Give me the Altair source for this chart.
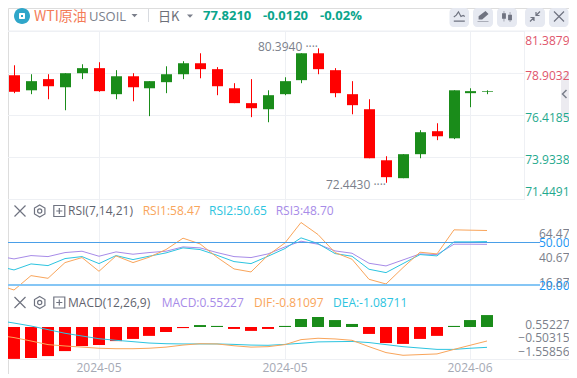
import altair as alt
import pandas as pd

# ---------- data ----------
idx = list(range(0, 29))
high = [79.39,78.86,78.86,78.92,79.45,79.57,79.10,78.92,78.45,79.33,79.63,80.10,79.28,78.33,78.57,77.91,78.68,80.10,80.39,79.22,78.45,77.38,74.01,74.13,75.55,75.96,77.91,78.03,77.91]
low = [77.74,77.68,77.38,76.73,78.57,77.82,77.38,77.26,76.38,77.74,78.57,78.62,77.62,77.15,76.32,76.02,77.62,78.33,78.86,77.50,76.49,73.89,72.44,72.71,73.89,74.96,75.02,76.91,77.68]
body_top = [78.80,78.45,78.57,78.92,79.22,79.22,78.74,78.74,78.45,78.86,79.51,79.51,79.16,78.03,77.15,77.62,78.45,80.10,80.10,79.10,77.68,76.79,73.77,74.13,75.43,75.49,77.91,77.86,77.86]
body_bot = [77.82,77.91,78.15,78.09,78.92,77.86,77.68,78.09,78.03,78.39,78.86,79.16,78.15,77.15,76.85,76.79,77.68,78.51,79.16,77.74,77.03,73.89,72.77,72.71,74.13,75.19,75.07,77.74,77.82]
updown = list("rgrggrgrgggrrrrgggrrrrrggrggg")

idx2 = list(range(-1, 29))
rsi1 = [20.25,16.47,26.62,24.73,35.82,39.36,29.68,40.54,35.82,39.59,45.02,53.04,49.03,39.59,31.34,29.21,41.01,49.74,64.13,55.63,42.89,38.18,24.02,20.72,32.28,43.13,41.95,58.94,58.70,58.47]
rsi2 = [33.46,30.63,34.87,33.69,38.65,40.06,35.11,40.77,37.94,40.30,42.66,46.20,45.02,41.01,36.53,35.11,40.30,45.73,53.27,49.26,42.19,40.30,31.10,28.74,35.11,41.48,40.54,50.44,50.44,50.65]
rsi3 = [40.54,38.41,40.77,40.06,42.89,43.84,40.30,43.37,41.72,42.89,43.84,46.90,46.20,42.89,40.06,39.36,41.95,46.90,50.92,48.79,44.07,42.42,35.35,33.46,37.70,41.95,41.48,48.79,48.79,48.70]
dif = [-0.55,-0.66,-0.81,-0.97,-1.03,-1.08,-1.13,-1.15,-1.15,-1.13,-1.08,-0.99,-0.93,-0.94,-1.02,-1.08,-1.06,-0.97,-0.75,-0.69,-0.72,-0.78,-1.06,-1.32,-1.44,-1.41,-1.38,-1.18,-1.00,-0.81]
dea = [0.10,-0.02,-0.15,-0.31,-0.47,-0.59,-0.71,-0.78,-0.84,-0.90,-0.93,-0.94,-0.94,-0.94,-0.96,-0.99,-1.00,-0.96,-0.91,-0.85,-0.84,-0.83,-0.88,-0.97,-1.06,-1.12,-1.18,-1.18,-1.13,-1.09]
hist = [-1.29,-1.47,-1.43,-1.34,-1.11,-0.88,-0.83,-0.65,-0.55,-0.41,-0.23,-0.05,0.09,0.05,-0.09,-0.18,-0.09,0.05,0.37,0.46,0.32,0.14,-0.32,-0.74,-0.78,-0.55,-0.41,0.05,0.32,0.55]

price_ticks = [81.3879, 78.9032, 76.4185, 73.9338, 71.4491]
rsi_ticks = [64.47, 40.67, 16.87]
rsi_levels = [50, 20]
macd_ticks = [0.55227, -0.50315, -1.55856]
date_pos = [5, 16, 27]
date_labels = ["2024-05", "2024-05", "2024-06"]

FONT = "Open Sans"
GRID = "#eef0f4"
RED = "#ff0000"
GREEN = "#1a8c1a"
GRAY = "#7b7f8b"
ICON = "#6f7380"
ORANGE = "#f9a55b"
CYAN = "#2cc4e0"
PURPLE = "#a78be8"
BLUE = "#2196f3"
W = 561
H = 366
PLOT_R = 516   # right edge of the candle plot


def hx(px):
    return px - 8


xscale = alt.Scale(domain=[0, 28], range=[hx(14.3), hx(487.3)], round=True, nice=False, zero=False, padding=0)
xnone = alt.X("i:Q", scale=xscale, axis=None)
pscale = alt.Scale(domain=[price_ticks[-1], price_ticks[0]], range=[hx(199.5), hx(31.5)], nice=False, zero=False)
rscale = alt.Scale(domain=[20, 50], range=[hx(285), hx(242.5)], nice=False, zero=False)
rt_scale = alt.Scale(domain=[rsi_ticks[-1], rsi_ticks[0]], range=[hx(282), hx(233.3)], nice=False, zero=False)
hscale = alt.Scale(domain=[0, 1], range=[hx(327), hx(305.3)], nice=False, zero=False)
lscale = alt.Scale(domain=[-1, 0], range=[hx(345.3), hx(322.6)], nice=False, zero=False)
mt_scale = alt.Scale(domain=[macd_ticks[-1], macd_ticks[0]], range=[hx(351), hx(324.3)], nice=False, zero=False)


def txt(s, x, y, color=GRAY, size=12, weight="normal", align="left", font=FONT):
    return alt.Chart(pd.DataFrame({"t": [s]})).mark_text(color=color, fontSize=size, fontWeight=weight, align=align,
                                                         baseline="middle", font=font).encode(
        x=alt.value(x), y=alt.value(y), text="t:N")


def icon(path, x, y, r, color=ICON, filled=False, sw=1.2):
    return alt.Chart(pd.DataFrame({"a": [0]})).mark_point(shape=path, size=(2 * r) ** 2, filled=filled, opacity=1,
                                                          color=color, strokeWidth=sw).encode(
        x=alt.value(x), y=alt.value(y))


def box(x, x2, y, y2, color, radius=0):
    return alt.Chart(pd.DataFrame({"a": [0]})).mark_rect(color=color, cornerRadius=radius).encode(
        x=alt.value(x), x2=alt.value(x2), y=alt.value(y), y2=alt.value(y2))


def axis(values, color, fmt):
    return alt.Axis(values=values, orient="right", ticks=False, tickSize=0, domain=False, grid=False, title=None, labelFont=FONT,
                    labelFontSize=12, labelColor=color, labelAlign="right", labelPadding=0, format=fmt, zindex=1)


layers = []

# ---------- header ----------
btns = [(449.5, 469), (473, 493), (497, 517), (525, 545), (549, 568.5)]
layers += [
    box(0, W, 22.5, 23.5, GRID),
    icon("M-1,0A1,1 0 1,0 1,0A1,1 0 1,0 -1,0Z", hx(22), 8, 8, "#2fa6c9", True, 0),
    box(hx(19), hx(25), 5, 11, "white", 1),
    box(hx(21), hx(23), 7, 9, "#2fa6c9"),
    txt("WTI原油", hx(34), 8.5, "#f47c58", 14, font="Noto Sans CJK SC"),
    txt("USOIL", hx(89), 8.5, GRAY, 13),
    icon("M-1,-0.5L1,-0.5L0,0.6Z", hx(134.5), 7.5, 3, GRAY, True, 0),
    box(hx(148), hx(148.8), 1, 14, "#cfd2d9"),
    txt("日K", hx(158), 8.5, "#6d7079", 13, font="Noto Sans CJK SC"),
    icon("M-1,-0.5L1,-0.5L0,0.6Z", hx(190), 8, 3, GRAY, True, 0),
    txt("77.8210", hx(203), 8, "#0ba58c", 13, "bold"),
    txt("-0.0120", hx(263), 8, "#0ba58c", 13, "bold"),
    txt("-0.02%", hx(320), 8, "#0ba58c", 13, "bold"),
]
for a, b in btns:
    layers.append(box(hx(a), hx(b), 0, 19, "#e6e9f1", 4))
layers += [
    icon("M-1,0.1L-0.55,-0.25L-0.15,-0.85L0.3,0L0.7,-0.2L1,0M-1,0.85L1,0.85", hx(459.3), 8.5, 5.5),
    icon("M0.45,-1L1,-0.45L-0.15,0.55L-0.8,0.55L-0.8,-0.05ZM-1,0.9L1,0.9L1,1L-1,1Z", hx(483), 8.5, 5.5, ICON, True, 0.5),
    icon("M-0.9,-0.6L-0.2,-0.6L-0.2,0.4L-0.9,0.4ZM-0.6,-1L-0.5,-1L-0.5,0.9L-0.6,0.9ZM0.2,-0.3L0.9,-0.3L0.9,0.7L0.2,0.7ZM0.5,-0.8L0.6,-0.8L0.6,1L0.5,1Z", hx(507), 8.5, 5.5, ICON, True, 0.5),
    icon("M1,-1L0.2,-0.2M0.2,-0.9L0.2,-0.2L0.9,-0.2M-1,1L-0.2,0.2M-0.2,0.9L-0.2,0.2L-0.9,0.2", hx(535), 8.5, 5),
    icon("M-1,-1L1,1M-1,1L1,-1", hx(559), 8.5, 5),
]

# ---------- grids ----------
layers.append(alt.Chart(pd.DataFrame({"i": date_pos})).mark_rule(color=GRID, strokeWidth=1, xOffset=0.5).encode(
    x=xnone, y=alt.value(hx(31)), y2=alt.value(hx(359))))
layers.append(alt.Chart(pd.DataFrame({"v": price_ticks})).mark_rule(color=GRID, strokeWidth=1).encode(
    x=alt.value(0), x2=alt.value(PLOT_R), y=alt.Y("v:Q", scale=pscale, axis=None)))
layers.append(box(PLOT_R, PLOT_R + 1, hx(31), hx(200), GRID))
layers.append(box(0, W, hx(359), hx(360), GRID))

# ---------- candles ----------
cd = pd.DataFrame({"i": idx, "high": high, "low": low, "top": body_top, "bot": body_bot, "dir": updown})
color_c = alt.Color("dir:N", scale=alt.Scale(domain=["r", "g"], range=[RED, GREEN]), legend=None)
layers.append(alt.Chart(cd).mark_rule(strokeWidth=1, xOffset=0.5).encode(
    x=xnone, y=alt.Y("low:Q", scale=pscale, axis=None), y2="high:Q", color=color_c))
layers.append(alt.Chart(cd).mark_bar(size=11, orient="vertical", xOffset=0.5).encode(
    x=xnone, y=alt.Y("bot:Q", scale=pscale, axis=None), y2="top:Q", color=color_c))
for i, p, t, dy in [(18, high[18], "80.3940 ····", -1), (22, low[22], "72.4430 ····", 2)]:
    layers.append(alt.Chart(pd.DataFrame({"i": [i], "p": [p], "t": [t]})).mark_text(
        align="right", baseline="middle", color=GRAY, fontSize=12, font=FONT, dy=dy).encode(
        x=xnone, y=alt.Y("p:Q", scale=pscale, axis=None), text="t:N"))
price_axis = alt.Axis(values=price_ticks, orient="right", ticks=False, tickSize=0, domain=False, grid=False, title=None, labelFont=FONT,
                      labelFontSize=12, labelAlign="right", labelPadding=0, labelFlush=True, labelFlushOffset=-2.5, labelOffset=1.5,
                      zindex=1, format=".4f", labelColor=alt.condition("datum.value > 78", alt.value("#e0566c"), alt.value("#1fa98e")))
layers += [
    icon("M1,-5.9L-1,-4L-1,5.75L1,6.9Z", hx(565), hx(94), 4, "#ecebf0", True, 0),
    icon("M0.5,-1L-0.5,0L0.5,1", hx(564.5), hx(94), 4, GRAY, False, 1.5),
]
layers.append(alt.Chart(pd.DataFrame({"v": price_ticks})).mark_point(opacity=0).encode(
    y=alt.Y("v:Q", scale=pscale, axis=price_axis)))

# ---------- RSI ----------
rd = pd.DataFrame({"i": idx2, "rsi1": rsi1, "rsi2": rsi2, "rsi3": rsi3})
for col, color in [("rsi3", PURPLE), ("rsi2", CYAN), ("rsi1", ORANGE)]:
    layers.append(alt.Chart(rd).mark_line(color=color, strokeWidth=1).encode(
        x=xnone, y=alt.Y(f"{col}:Q", scale=rscale, axis=None)))
for lvl, col, sw in [(rsi_levels[0], "#4a9fe8", 1), (rsi_levels[1], "#86c6f5", 2)]:
    layers.append(alt.Chart(pd.DataFrame({"v": [lvl]})).mark_rule(color=col, strokeWidth=sw).encode(
        x=alt.value(0), x2=alt.value(hx(540)), y=alt.Y("v:Q", scale=rscale, axis=None)))
layers.append(alt.Chart(pd.DataFrame({"v": rsi_ticks})).mark_point(opacity=0).encode(
    y=alt.Y("v:Q", scale=rt_scale, axis=axis(rsi_ticks, GRAY, ".2f"))))
layers.append(alt.Chart(pd.DataFrame({"v": rsi_levels})).mark_point(opacity=0).encode(
    y=alt.Y("v:Q", scale=rscale, axis=axis(rsi_levels, BLUE, ".2f"))))

X_ICON = "M-1,-1L1,1M-1,1L1,-1"
HEX = "M0,-1L0.87,-0.5L0.87,0.5L0,1L-0.87,0.5L-0.87,-0.5Z"
DOT = "M-0.35,0A0.35,0.35 0 1,0 0.35,0A0.35,0.35 0 1,0 -0.35,0Z"
PLUS = "M-1,-1L1,-1L1,1L-1,1ZM-0.55,0L0.55,0M0,-0.55L0,0.55"


def tools(y):
    return [icon(X_ICON, hx(20), y, 5.5), icon(HEX, hx(39.7), y, 6), icon(DOT, hx(39.7), y, 6),
            icon(PLUS, hx(59.3), y, 5.5)]


RY = hx(211)
layers += tools(RY) + [
    txt("RSI(7,14,21)", hx(68), RY, "#5f636e", 12),
    txt("RSI1:58.47", hx(142.7), RY, ORANGE, 12),
    txt("RSI2:50.65", hx(209), RY, CYAN, 12),
    txt("RSI3:48.70", hx(275.7), RY, PURPLE, 12),
]

# ---------- MACD ----------
md = pd.DataFrame({"i": idx2, "dif": dif, "dea": dea, "hist": hist})
layers.append(alt.Chart(md).mark_bar(size=12, orient="vertical").encode(
    x=xnone, y=alt.Y("hist:Q", scale=hscale, axis=None), y2=alt.datum(0),
    color=alt.condition("datum.hist > 0", alt.value(GREEN), alt.value(RED))))
for col, color in [("dea", CYAN), ("dif", ORANGE)]:
    layers.append(alt.Chart(md).mark_line(color=color, strokeWidth=1).encode(
        x=xnone, y=alt.Y(f"{col}:Q", scale=lscale, axis=None)))
layers.append(alt.Chart(pd.DataFrame({"v": macd_ticks})).mark_point(opacity=0).encode(
    y=alt.Y("v:Q", scale=mt_scale, axis=axis(macd_ticks, GRAY, ".5f"))))
date_df = pd.DataFrame({"i": date_pos, "t": date_labels})
layers.append(alt.Chart(date_df).mark_text(color="#a5a9b4", fontSize=12, font=FONT, baseline="middle").encode(
    x=xnone, y=alt.value(hx(368)), text="t:N"))
MY = hx(302.5)
layers += tools(MY) + [
    txt("MACD(12,26,9)", hx(68), MY, "#5f636e", 12),
    txt("MACD:0.55227", hx(161.7), MY, PURPLE, 12),
    txt("DIF:-0.81097", hx(254), MY, ORANGE, 12),
    txt("DEA:-1.08711", hx(333), MY, CYAN, 12),
]

chart = alt.layer(*layers).resolve_scale(y="independent").properties(
    width=W, height=H, padding=0, autosize=alt.AutoSizeParams(type="none")
).configure_view(strokeWidth=0).configure(background="white")

chart.save("out.html", embed_options={"renderer": "svg", "actions": False})
